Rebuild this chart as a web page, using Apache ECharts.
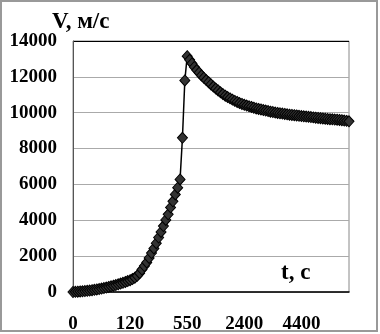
<!DOCTYPE html>
<html>
<head>
<meta charset="utf-8">
<script src="https://cdn.jsdelivr.net/npm/echarts@6/dist/echarts.min.js"></script>
<style>
  html, body { margin: 0; padding: 0; background: #fff; }
  #chart { width: 380px; height: 334px; }
</style>
</head>
<body>
<div id="chart"></div>
<script>
// подписи оси t (каждая 24-я точка)
const tickLabels = ["0", "120", "550", "2400", "4400"];
const labelStep = 24;

// скорость V, м/с по точкам
const speed = [
  0, 10, 20, 30, 40, 55, 65, 80, 100, 120,
  140, 165, 190, 220, 250, 285, 320, 355, 390, 430,
  470, 515, 560, 610, 660, 720, 800, 900, 1050, 1250,
  1450, 1650, 1900, 2170, 2430, 2720, 3040, 3350, 3680, 4020,
  4330, 4720, 5060, 5440, 5820, 6280, 8600, 11800, 13150, 12950,
  12750, 12550, 12380, 12230, 12080, 11950, 11820, 11700, 11580, 11460,
  11350, 11240, 11140, 11040, 10950, 10870, 10800, 10730, 10660, 10600,
  10540, 10490, 10440, 10400, 10360, 10320, 10280, 10240, 10210, 10180,
  10150, 10120, 10090, 10060, 10040, 10010, 9990, 9970, 9950, 9930,
  9910, 9890, 9875, 9860, 9845, 9830, 9815, 9800, 9785, 9770,
  9755, 9740, 9725, 9710, 9695, 9680, 9665, 9650, 9640, 9630,
  9620, 9610, 9595, 9580, 9565, 9545, 9520
];

const categories = speed.map((v, i) =>
  i % labelStep === 0 ? (tickLabels[i / labelStep] || "") : ""
);

const font = "Liberation Serif, Times New Roman, serif";
const chart = echarts.init(document.getElementById("chart"));

chart.setOption({
  backgroundColor: "#fff",
  animation: false,
  grid: {
    left: 73, top: 41, width: 276, height: 252,
    show: true, borderColor: "#888", borderWidth: 1
  },
  xAxis: {
    type: "category",
    data: categories,
    boundaryGap: false,
    axisLine: { lineStyle: { color: "#000", width: 1.5 } },
    axisTick: { show: false },
    axisLabel: {
      interval: labelStep - 1,
      margin: 23,
      color: "#000",
      fontFamily: font,
      fontWeight: "bold",
      fontSize: 19
    },
    splitLine: { show: false }
  },
  yAxis: {
    type: "value",
    min: 0, max: 14000, interval: 2000,
    axisLine: { show: true, lineStyle: { color: "#555" } },
    axisTick: { show: false },
    axisLabel: {
      margin: 16,
      color: "#000",
      fontFamily: font,
      fontWeight: "bold",
      fontSize: 19,
      formatter: v => String(v)
    },
    splitLine: {
      lineStyle: {
        color: ["#aaa", "#aaa", "#aaa", "#aaa", "#aaa", "#aaa", "#aaa", "#000"],
        width: 1
      }
    }
  },
  graphic: [
    {
      type: "rect",
      shape: { x: 1, y: 1, width: 376, height: 330 },
      style: { fill: "none", stroke: "#999", lineWidth: 2 },
      silent: true
    },
    {
      type: "text", left: 52, top: 11,
      style: { text: "V, м/с", fill: "#000", font: "bold 23px " + font }
    },
    {
      type: "text", left: 281, top: 262,
      style: { text: "t, c", fill: "#000", font: "bold 23px " + font }
    }
  ],
  series: [{
    type: "line",
    data: speed,
    symbol: "diamond",
    symbolSize: [10, 11],
    showSymbol: true,
    showAllSymbol: true,
    lineStyle: { color: "#000", width: 1.5 },
    itemStyle: { color: "#333", borderColor: "#000", borderWidth: 1 }
  }]
});
</script>
</body>
</html>
